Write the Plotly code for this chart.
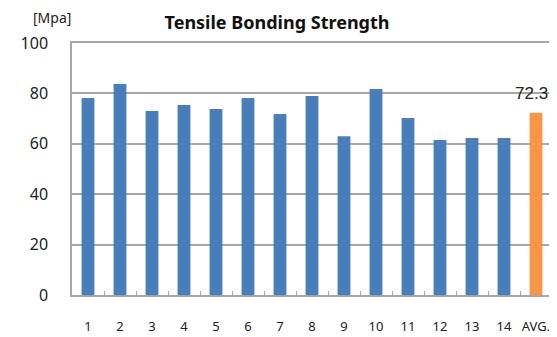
import plotly.graph_objects as go

# ── Data ───────────────────────────────────────────────────────
CATEGORIES = ["1", "2", "3", "4", "5", "6", "7", "8", "9", "10", "11", "12", "13", "14", "AVG."]
STRENGTH = [78.2, 83.7, 73.0, 75.4, 73.8, 78.2, 71.8, 79.0, 63.0, 81.7, 70.2, 61.5, 62.3, 62.3, 72.3]
AVG_LABEL = "72.3"

C_BLUE = "#4a7ebb"
C_ORANGE = "#f79646"
C_GRID = "#a6a6a6"

colors = [C_BLUE] * (len(CATEGORIES) - 1) + [C_ORANGE]

fig = go.Figure()
fig.add_trace(
    go.Bar(
        x=CATEGORIES,
        y=STRENGTH,
        marker=dict(color=colors, line=dict(width=0)),
        showlegend=False,
    )
)

fig.add_annotation(
    x=CATEGORIES[-1],
    y=STRENGTH[-1],
    text=AVG_LABEL,
    showarrow=False,
    yanchor="bottom",
    xshift=-5,
    yshift=8,
    font=dict(family="Liberation Sans, Arial", size=17, color="#222"),
)

fig.add_annotation(
    x=0.0,
    y=1.0,
    xref="paper",
    yref="paper",
    xanchor="right",
    yanchor="middle",
    xshift=1,
    yshift=26,
    text="[Mpa]",
    showarrow=False,
    font=dict(family="Noto Sans", size=14, color="#222"),
)

# page body keeps an 8px margin, so the figure is sized to the visible area
fig.update_layout(
    width=549,
    height=329,
    title=dict(
        text="<b>Tensile Bonding Strength</b>",
        x=0.49,
        xanchor="center",
        y=0.955,
        yanchor="middle",
        font=dict(family="Noto Sans", size=18, color="#111"),
    ),
    bargap=0.6,
    margin=dict(l=64, r=5, t=35, b=42, autoexpand=False),
    plot_bgcolor="white",
    paper_bgcolor="white",
    font=dict(family="Noto Sans", color="#222"),
    xaxis=dict(
        showline=True,
        linecolor=C_GRID,
        linewidth=1.5,
        mirror=True,
        ticks="inside",
        tickson="boundaries",
        ticklen=4,
        tickcolor=C_GRID,
        tickangle=0,
        automargin=False,
        ticklabelstandoff=19,
        tickfont=dict(size=13),
    ),
    yaxis=dict(
        range=[0, 100],
        dtick=20,
        showgrid=True,
        gridcolor=C_GRID,
        gridwidth=1.5,
        showline=True,
        linecolor=C_GRID,
        linewidth=1.5,
        mirror=True,
        ticks="",
        automargin=False,
        ticklabelstandoff=19,
        tickfont=dict(size=16),
        zeroline=False,
    ),
)

fig.write_html("out.html")
